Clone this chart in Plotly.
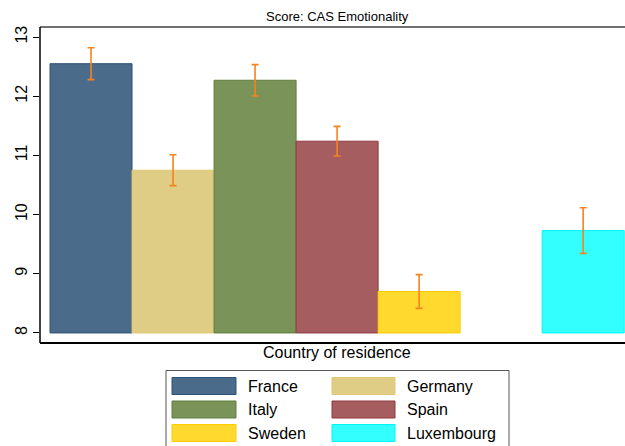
import plotly.graph_objects as go

# Mean CAS Emotionality score by country of residence, with confidence intervals
countries = ["France", "Germany", "Italy", "Spain", "Sweden", "Luxembourg"]
means = [12.55, 10.75, 12.27, 11.24, 8.70, 9.73]
ci_half = [0.27, 0.26, 0.265, 0.25, 0.285, 0.385]
# slot positions along the category axis (slot 6 stays empty)
positions = [1, 2, 3, 4, 5, 7]
fills = ["#4A6B8A", "#E0CD85", "#7A9358", "#A65D60", "#FFD92E", "#33FFFF"]
edges = ["#2E5379", "#E0C770", "#5F7E3E", "#8E3A3D", "#FFCC00", "#00F5F5"]
y_ticks = [8, 9, 10, 11, 12, 13]
bar_base = 8

W, H = 625, 446
L, R, T, B = 40, 0, 27, 103
plot_w = W - L - R
plot_h = H - T - B


def px_x(px):
    return (px - L) / plot_w


def px_y(py):
    return (H - B - py) / plot_h


fig = go.Figure()

for name, pos, m, fc, ec in zip(countries, positions, means, fills, edges):
    fig.add_trace(go.Bar(
        x=[pos], y=[m - bar_base], base=[bar_base], width=[1.0],
        name=name, marker=dict(color=fc, line=dict(color=ec, width=1)),
        showlegend=False,
    ))

fig.add_trace(go.Scatter(
    x=positions, y=means, mode="markers",
    marker=dict(size=1, opacity=0),
    error_y=dict(type="data", array=ci_half, color="#F5841F",
                 thickness=1.6, width=3.5),
    showlegend=False, hoverinfo="skip",
))

font_family = "Liberation Sans, Arial, sans-serif"

fig.update_layout(
    width=W, height=H,
    margin=dict(l=L, r=R, t=T, b=B),
    paper_bgcolor="white", plot_bgcolor="white",
    barmode="overlay",
    font=dict(family=font_family, color="black"),
    xaxis=dict(range=[0.378, 7.51], showgrid=False, zeroline=False,
               showticklabels=False, ticks="", showline=False),
    yaxis=dict(range=[7.83, 13.17], tickvals=y_ticks,
               ticktext=[str(v) for v in y_ticks],
               tickangle=-90, ticks="outside", ticklen=6, tickwidth=1.2,
               tickcolor="black", showgrid=False, zeroline=False,
               showline=False, tickfont=dict(size=16)),
)

shapes = [
    # top strip line
    dict(type="line", xref="paper", yref="paper", x0=0, x1=1.02, y0=1, y1=1,
         line=dict(color="#707070", width=2)),
    # left axis line
    dict(type="line", xref="paper", yref="paper", x0=0, x1=0, y0=0, y1=1,
         line=dict(color="black", width=1.5)),
    # bottom axis line
    dict(type="line", xref="paper", yref="paper", x0=0, x1=1.02, y0=0, y1=0,
         line=dict(color="black", width=2)),
    # legend frame
    dict(type="rect", xref="paper", yref="paper",
         x0=px_x(166), x1=px_x(509), y0=px_y(452), y1=px_y(370.5),
         line=dict(color="#555555", width=1), fillcolor="white"),
]

annotations = [
    dict(text="Score: CAS Emotionality", xref="paper", yref="paper",
         x=px_x(337), y=px_y(16), xanchor="center", yanchor="middle",
         showarrow=False, font=dict(size=13, color="black")),
    dict(text="Country of residence", xref="paper", yref="paper",
         x=px_x(337), y=px_y(352.5), xanchor="center", yanchor="middle",
         showarrow=False, font=dict(size=16, color="black")),
]

# two-column legend
row_centers = [386, 409.5, 433]
col_swatch = [(172, 236), (332, 395)]
col_text = [246, 405]
for i, (name, fc, ec) in enumerate(zip(countries, fills, edges)):
    r, c = divmod(i, 2)
    cy = row_centers[r]
    sx0, sx1 = col_swatch[c]
    shapes.append(dict(type="rect", xref="paper", yref="paper",
                       x0=px_x(sx0), x1=px_x(sx1),
                       y0=px_y(cy + 8.5), y1=px_y(cy - 8.5),
                       fillcolor=fc, line=dict(color=ec, width=1)))
    annotations.append(dict(text=name, xref="paper", yref="paper",
                            x=px_x(col_text[c]), y=px_y(cy),
                            xanchor="left", yanchor="middle", showarrow=False,
                            font=dict(size=16, color="black")))

fig.update_layout(shapes=shapes, annotations=annotations)

fig.write_html("out.html")
